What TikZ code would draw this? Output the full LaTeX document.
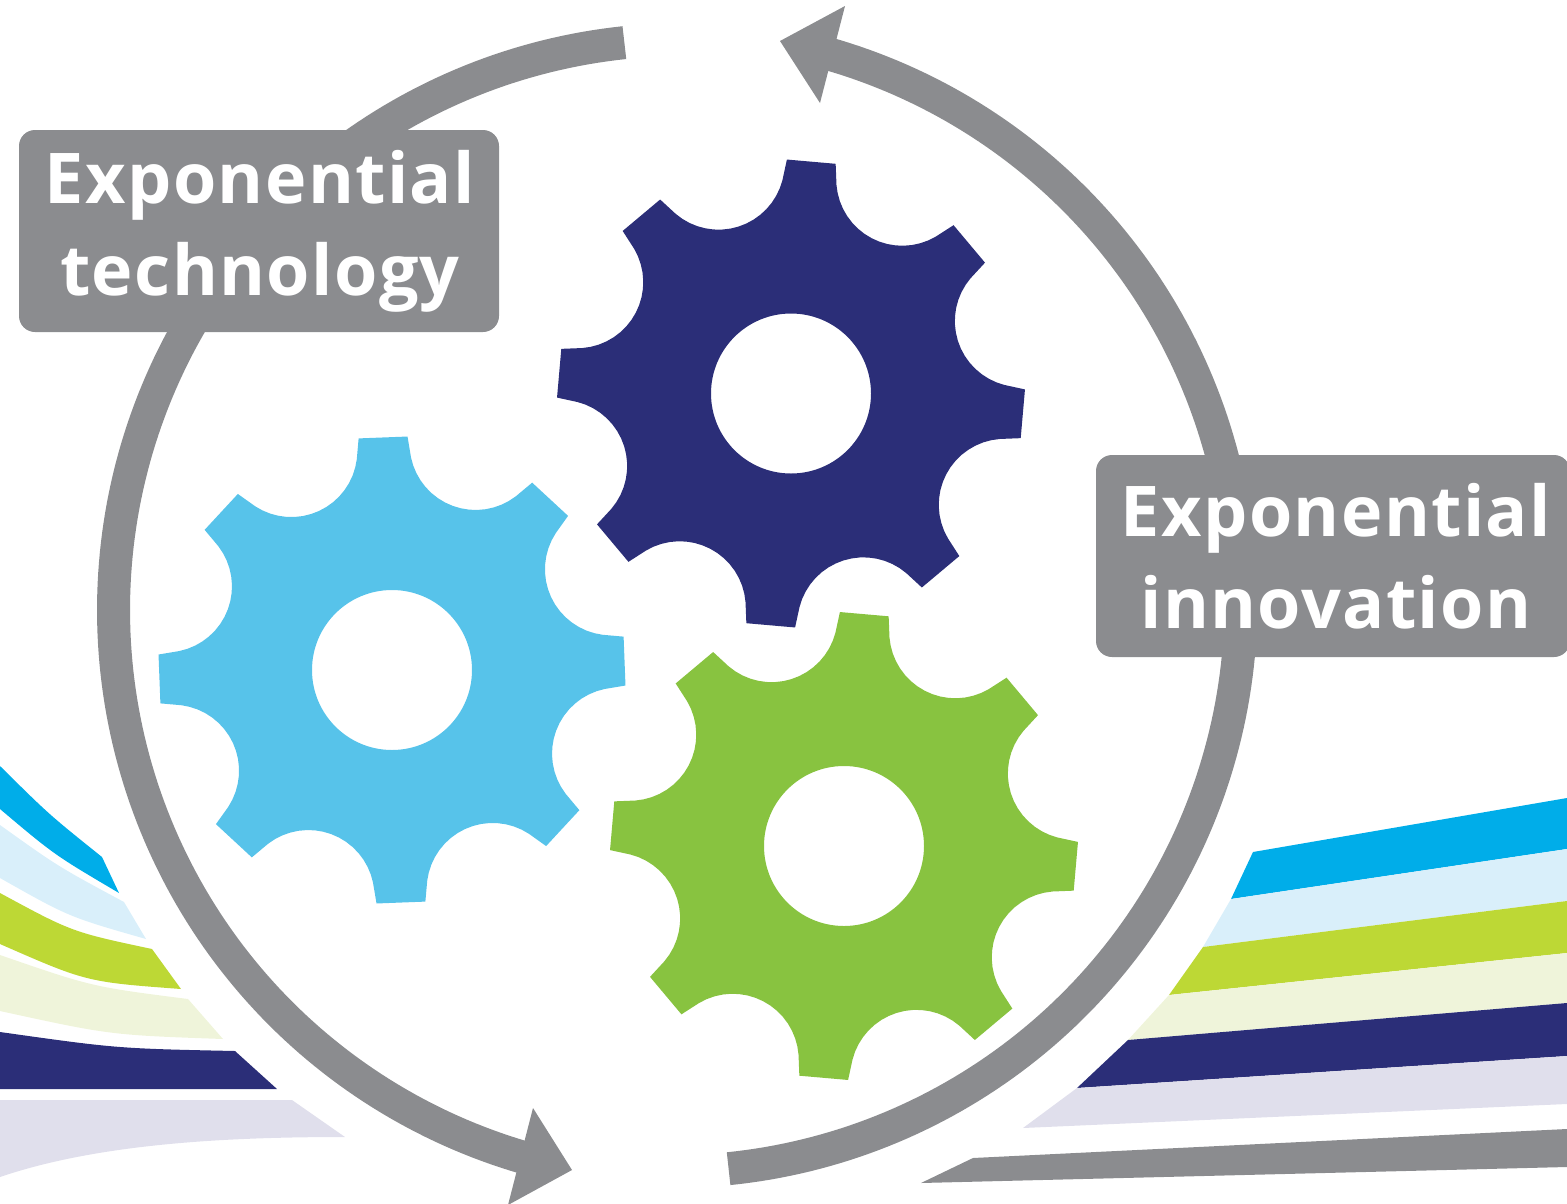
\documentclass[tikz,border=0pt]{standalone}
\usepackage{fontspec}
\newfontfamily\labfont[LetterSpace=2]{Open Sans}
\definecolor{ringgray}{HTML}{8B8C8F}
\definecolor{gearnavy}{HTML}{2B2E78}
\definecolor{gearblue}{HTML}{57C3EA}
\definecolor{geargreen}{HTML}{88C340}
\definecolor{bandblue}{HTML}{00ADE9}
\definecolor{bandsky}{HTML}{D9EFFA}
\definecolor{bandlime}{HTML}{BDD835}
\definecolor{bandpale}{HTML}{EFF4DA}
\definecolor{bandlav}{HTML}{E0DFEC}
\tikzset{
  ringarc/.style={draw=ringgray,line width=33pt,line cap=butt,fill=none},
  labelbox/.style={fill=ringgray,rounded corners=16pt,inner sep=0pt,minimum width=#1,minimum height=202pt},
  labeltext/.style={text=white,align=center,inner sep=0pt,font=\labfont\bfseries\fontsize{70}{92}\selectfont}
}
% centre x, centre y, phase of first tooth, colour
\newcommand\cogwheel[4]{%
  \fill[#4,even odd rule] ({#1+234*cos(#3-6)},{#2+234*sin(#3-6)})
  \foreach \i [evaluate=\i as \a using #3+45*\i, evaluate=\i as \s using #3+45*\i+22.5] in {0,...,7}{
    -- ({#1+234*cos(\a-6)},{#2+234*sin(\a-6)})
    -- ({#1+234*cos(\a+6)},{#2+234*sin(\a+6)})
    -- plot[domain=238:122,samples=17,variable=\p] ({#1+241*cos(\s)+66*cos(\s+\p)},{#2+241*sin(\s)+66*sin(\s+\p)})
  } -- cycle
  (#1,#2) circle[radius=80];
}
\begin{document}
\begin{tikzpicture}[x=1pt,y=-1pt]
\useasboundingbox (0,0) rectangle (1567,1203);
\clip (0,0) rectangle (1567,1203);
% left bands
\fill[bandblue] (0,766) .. controls (49,814.5) .. (102,857) -- (119,893) .. controls (54.5,855) .. (0,809) -- cycle;
\fill[bandsky] (0,825) .. controls (58,866.5) .. (124,902) -- (146,939) .. controls (69,917) .. (0,878) -- cycle;
\fill[bandlime] (0,893) .. controls (72,932) .. (152,949) -- (181,989) .. controls (86.6,982) .. (0,944) -- cycle;
\fill[bandpale] (0,955) .. controls (91.7,986.7) .. (188,999) -- (223,1039) .. controls (110,1035) .. (0,1011) -- cycle;
\fill[gearnavy] (0,1032) .. controls (117,1048.5) .. (235,1051) -- (277,1089) -- (0,1089) -- cycle;
\fill[bandlav] (0,1100) -- (292,1100) -- (345,1137) .. controls (230,1137) and (100,1143) .. (0,1177) -- cycle;
% right bands
\fill[bandblue] (1253,852) -- (1567,798) -- (1567,849) -- (1231,899) -- cycle;
\fill[bandsky] (1231,899) -- (1567,849) -- (1567,901) -- (1203,947) -- cycle;
\fill[bandlime] (1203,947) -- (1567,901) -- (1567,953) -- (1169,995) -- cycle;
\fill[bandpale] (1169,995) -- (1567,953) -- (1567,1003) -- (1128,1040) -- cycle;
\fill[gearnavy] (1128,1040) -- (1567,1003) -- (1567,1056) -- (1077,1088) -- cycle;
\fill[bandlav] (1077,1088) -- (1567,1056) -- (1567,1104) -- (1023,1128) -- cycle;
\fill[ringgray] (973,1158) -- (1567,1129) -- (1567,1167) -- (921,1183) -- cycle;
% ring arcs with heads
\draw[ringarc] plot[domain=264:106.2,samples=160,variable=\t] ({684+570.5*cos(\t)},{610+570.5*sin(\t)});
\fill[ringgray] (533,1108) -- (572,1170) -- (508,1205) -- cycle;
\draw[ringarc] plot[domain=84.2:-74.2,samples=160,variable=\t] ({671+570*cos(\t)},{601.6+570*sin(\t)});
\fill[ringgray] (845,6) -- (780,41) -- (820,103) -- cycle;
% gears
\cogwheel{791}{393.5}{-85}{gearnavy}
\cogwheel{844}{846}{-85}{geargreen}
\cogwheel{392}{670}{-92.2}{gearblue}
% label boxes
\node[labelbox=480pt] (techbox) at (259,231) {};
\node[labelbox=474pt] (innobox) at (1333,556) {};
\node[labeltext] (techlabel) at (260,231) {Exponential\\technology};
\node[labeltext] (innolabel) at (1336,556) {Exponential\\innovation};
\end{tikzpicture}
\end{document}
